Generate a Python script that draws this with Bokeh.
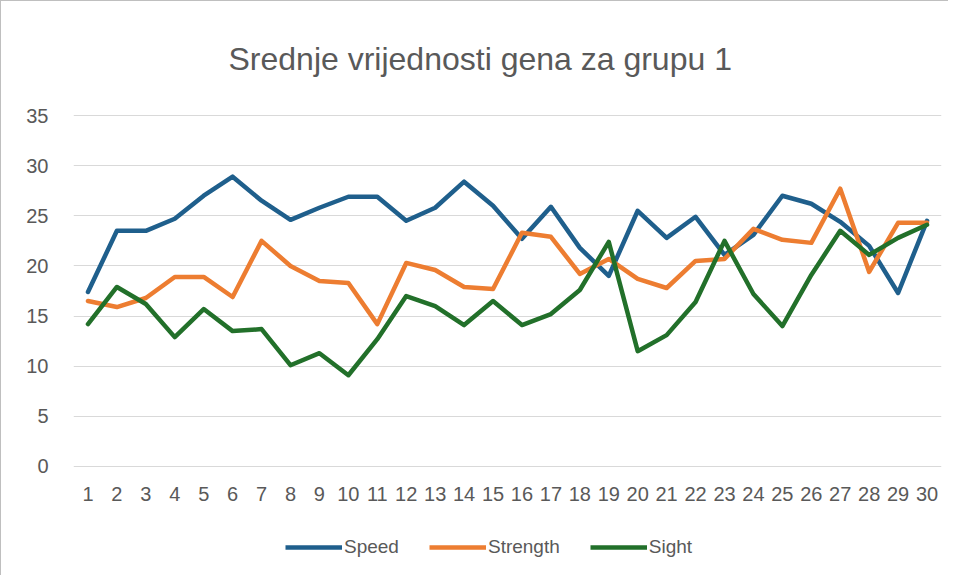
from bokeh.plotting import figure
from bokeh.layouts import column
from bokeh.models import (Range1d, FixedTicker, Legend, LegendItem, Title)
from bokeh.embed import file_html
from bokeh.resources import INLINE

days = list(range(1, 31))
speed = [17.4, 23.5, 23.5, 24.7, 27.0, 28.9, 26.5, 24.6, 25.8, 26.9,
         26.9, 24.5, 25.8, 28.4, 26.0, 22.7, 25.9, 21.8, 19.0, 25.5,
         22.8, 24.9, 21.1, 23.1, 27.0, 26.2, 24.4, 22.0, 17.3, 24.5]
strength = [16.5, 15.9, 16.8, 18.9, 18.9, 16.9, 22.5, 20.0, 18.5, 18.3,
            14.2, 20.3, 19.6, 17.9, 17.7, 23.3, 22.9, 19.2, 20.7, 18.7,
            17.8, 20.5, 20.7, 23.7, 22.6, 22.3, 27.7, 19.4, 24.3, 24.3]
sight = [14.2, 17.9, 16.2, 12.9, 15.7, 13.5, 13.7, 10.1, 11.3, 9.1,
         12.7, 17.0, 16.0, 14.1, 16.5, 14.1, 15.2, 17.6, 22.4, 11.5,
         13.1, 16.4, 22.5, 17.2, 14.0, 19.1, 23.5, 21.1, 22.8, 24.1]
series_names = ["Speed", "Strength", "Sight"]
colors = ["#1f5f8c", "#ed7d31", "#22702a"]
y_ticks = [0, 5, 10, 15, 20, 25, 30, 35]
title_text = "Srednje vrijednosti gena za grupu 1"

FONT = "Liberation Sans, Arial, sans-serif"
TXT = "#595959"
BORDER = "1px solid #bfbfbf"

# main chart
p = figure(width=948, height=515, output_backend="svg", toolbar_location=None,
           x_range=Range1d(0.5, 30.5), y_range=Range1d(-0.1, 35.1),
           min_border_left=72, min_border_right=8,
           min_border_top=110, min_border_bottom=49,
           styles={"border-left": BORDER, "border-top": BORDER})
p.outline_line_color = None
p.background_fill_color = "white"
p.border_fill_color = "white"

t = Title(text=title_text, align="left", offset=155, text_font=FONT,
          text_font_size="32px", text_font_style="normal",
          text_color=TXT, standoff=75)
p.add_layout(t, "above")

for vals, c in zip([speed, strength, sight], colors):
    p.line(days, vals, line_color=c, line_width=4.5,
           line_join="round", line_cap="round")

p.xaxis.ticker = FixedTicker(ticks=days)
p.yaxis.ticker = FixedTicker(ticks=y_ticks)
for ax in (p.xaxis, p.yaxis):
    ax.axis_line_color = None
    ax.major_tick_line_color = None
    ax.minor_tick_line_color = None
    ax.major_label_text_font = FONT
    ax.major_label_text_font_size = "20px"
    ax.major_label_text_color = TXT
p.yaxis.major_label_standoff = 19
p.xaxis.major_label_standoff = 13

p.xgrid.grid_line_color = None
p.ygrid.grid_line_color = "#d9d9d9"
p.ygrid.grid_line_width = 1

# legend strip below the chart (series lie outside its view; only the key shows)
lg = figure(width=948, height=60, output_backend="svg", toolbar_location=None,
            x_range=Range1d(100, 101), y_range=Range1d(0, 1),
            x_axis_location=None, y_axis_location=None,
            min_border=0, styles={"border-left": BORDER})
lg.outline_line_color = None
lg.grid.visible = False
lg.background_fill_color = "white"
lg.border_fill_color = "white"

items = []
for name, vals, c in zip(series_names, [speed, strength, sight], colors):
    r = lg.line(days, vals, line_color=c, line_width=4.5)
    items.append(LegendItem(label=name, renderers=[r]))

legend = Legend(items=items, orientation="horizontal", location=(212, 17),
                glyph_width=57, glyph_height=10, label_standoff=2, spacing=30,
                label_text_font=FONT, label_text_font_size="19px",
                label_text_color=TXT, border_line_color=None,
                background_fill_alpha=0, padding=0, margin=0)
lg.add_layout(legend, "center")

layout = column(p, lg, spacing=0)
open("out.html", "w").write(file_html(layout, INLINE))
